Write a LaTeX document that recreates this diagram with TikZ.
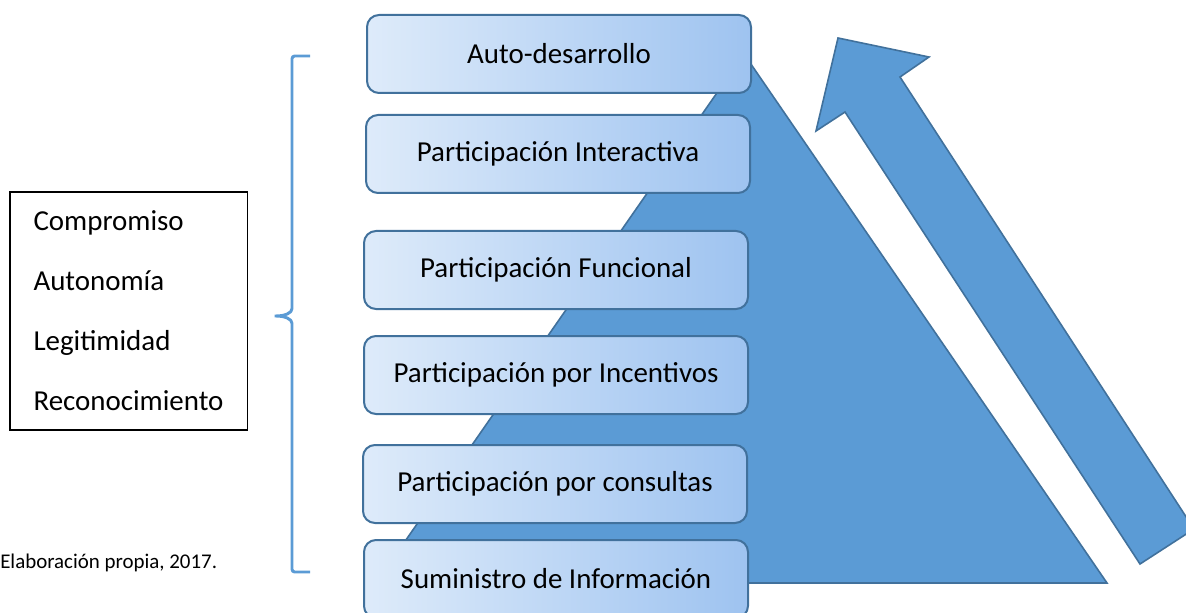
\documentclass[tikz,border=0pt]{standalone}
\usepackage{fontspec}
\setmainfont{Carlito}
\definecolor{pyrblue}{RGB}{91,155,213}
\definecolor{pyredge}{RGB}{65,113,156}
\definecolor{stageleft}{RGB}{222,235,250}
\definecolor{stageright}{RGB}{158,195,240}

\begin{document}
\begin{tikzpicture}[x=0.75pt,y=-0.75pt,
    stage/.style={rectangle,rounded corners=9pt,draw=pyredge,line width=1.5pt,
        left color=stageleft,right color=stageright,
        minimum width=288pt,minimum height=58.5pt,
        font=\fontsize{21.7}{26}\selectfont},
    solid shape/.style={fill=pyrblue,draw=pyredge,line width=1.2pt,line join=miter},
    brace/.style={draw=pyrblue,line width=2.2pt,rounded corners=2pt}]
    \useasboundingbox (0,0) rectangle (1186,613);
    % pyramid behind the stages
    \draw [solid shape] (376,583) -- (1107,583) -- (744,54) -- cycle;
    % upward arrow
    \draw [solid shape] (838,38) -- (929,57) -- (900,77) -- (1194,529)
        -- (1140,564) -- (845,112) -- (816,131) -- cycle;
    % stages
    \node [stage] (auto) at (559,54) {Auto-desarrollo};
    \node [stage] (inter) at (558,154) {Participación Interactiva};
    \node [stage] (func) at (556,270) {Participación Funcional};
    \node [stage] (incent) at (556,375) {Participación por Incentivos};
    \node [stage] (consul) at (555,484) {Participación por consultas};
    \node [stage] (sumin) at (556,579) {Suministro de Información};
    % brace and values
    \draw [brace] (310,56) -- (292,56) -- (292,306)
        .. controls (292,313) and (285,316) .. (273,316)
        .. controls (285,316) and (292,319) .. (292,326) -- (292,572) -- (310,572);
    \node [draw,line width=1pt,minimum width=178pt,minimum height=178.5pt,
        align=left,font=\fontsize{21.7}{45}\selectfont] (values) at (128.5,311)
        {Compromiso\\Autonomía\\Legitimidad\\Reconocimiento};
    \node [anchor=west,inner sep=0pt,font=\fontsize{15.7}{19}\selectfont] (source) at (0,563)
        {Elaboración propia, 2017.};
\end{tikzpicture}
\end{document}
